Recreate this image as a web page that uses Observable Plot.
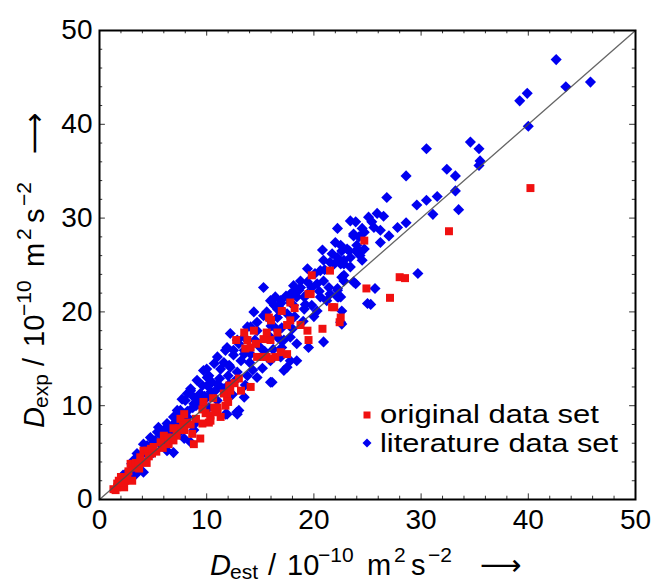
<!DOCTYPE html>
<html><head><meta charset="utf-8">
<script src="https://cdn.jsdelivr.net/npm/d3@7"></script>
<script src="https://cdn.jsdelivr.net/npm/@observablehq/plot@0.6"></script>
<style>body{margin:0;background:#fff} svg{display:block}</style>
</head><body><div id="chart"></div>
<script>
// literature data set: [D_est, D_exp]
const literature = [
[42.6,46.9],[43.5,44.0],[45.8,44.5],[39.2,42.5],[39.9,43.3],[40.0,39.8],[30.5,37.4],[34.6,38.1],[35.4,37.4],[35.5,36.1],
[35.4,35.6],[28.6,34.5],[32.4,35.2],[33.2,34.5],[33.2,32.9],[33.5,30.9],[26.8,32.2],[31.5,32.3],[30.5,31.9],[29.6,31.4],
[31.1,30.4],[28.6,29.5],[27.8,29.0],[26.5,30.2],[29.7,24.1],[25.7,22.5],[25.3,20.8],[23.7,23.2],[22.6,23.7],[22.2,21.6],
[22.6,20.1],[22.6,18.7],[19.4,24.6],[15.3,22.6],[14.4,20.0],[20.9,16.8],[19.5,16.2],[16.1,12.5],[12.8,9.3],[10.0,13.9],
[8.5,11.8],[7.7,10.7],[22.8,23.9],[25.0,20.9],
[23.4,29.7],[23.9,29.6],[25.1,30.1],[25.4,29.6],[25.9,30.5],[22.2,28.9],[23.7,28.3],[24.2,28.0],[24.7,28.5],[22.0,27.4],
[22.5,27.1],[23.1,26.7],[23.9,26.5],[20.8,26.6],[21.7,26.2],[22.2,25.8],[24.3,26.4],[24.5,25.5],[20.9,25.5],[21.5,25.3],
[22.8,25.1],[23.4,24.8],[20.1,24.1],[20.6,24.4],[18.75,23.3],[19.4,23.2],[20.3,23.0],[20.9,23.3],[21.4,22.6],[18.1,22.8],
[18.6,22.3],[18.0,22.1],[22.2,22.3],[22.5,21.6],[17.4,21.7],[17.8,21.0],[18.4,21.6],[20.6,21.6],[21.2,21.2],[21.5,21.9],
[15.6,20.0],[16.3,20.7],[16.9,20.3],[18.1,20.7],[19.1,20.3],[19.8,20.7],[20.3,20.1],
[16.4,21.6],[16.9,20.9],[17.8,21.4],[19.1,21.6],[15.3,19.6],[15.95,19.1],[16.6,19.4],[17.5,19.8],[14.1,18.4],[14.7,18.0],
[12.2,17.7],[12.85,17.0],[13.5,17.3],[15.95,17.3],[16.9,17.0],[17.8,17.3],[18.4,16.6],[11.75,15.9],[12.5,15.4],[13.5,15.9],
[14.1,15.5],[15.95,14.8],[16.9,15.2],[17.5,14.1],[10.7,14.5],[11.3,13.9],[12.1,14.3],[12.85,13.6],[13.8,13.2],[9.7,13.75],
[10.2,13.2],[15.95,12.5],[17.2,13.75],[9.1,12.7],[9.6,12.15],[10.5,12.5],[11.3,12.0],[12.1,12.3],[8.5,11.6],[9.4,11.3],
[10.05,10.9],[10.98,10.55],[8.0,10.55],[8.8,10.2],[9.6,9.8],[13.0,9.5],[7.25,9.5],[7.9,9.1],[11.9,9.1],
[10.05,12.15],[11.0,12.3],[11.6,11.8],[8.2,11.3],[8.8,10.9],[7.55,9.1],[11.75,9.1],[5.5,7.7],[6.0,7.4],[6.6,7.5],
[7.9,6.5],[8.5,6.1],[4.45,5.75],[5.05,5.2],[3.5,4.5],[4.0,4.0],[3.2,3.6],[2.9,3.1],[3.4,2.7],[6.3,5.2],
[6.9,5.0],[4.1,2.9],[8.8,7.4],
[26.2,28.7],[25.6,29.0],[24.5,28.9],[27.0,28.1],[26.2,27.4],[23.7,28.1],[24.0,27.1],[24.7,26.7],[22.6,26.5],[23.3,26.5],
[24.3,26.0],[22.5,25.1],[22.8,23.3],[23.9,23.0],[22.2,22.5],[22.3,21.6],[22.5,18.9],
[18.75,22.6],[19.4,21.9],[17.8,21.9],[21.9,25.1],[22.8,25.5],[23.4,25.8],[15.95,21.2],[16.9,21.2],[16.6,20.3],[14.7,18.9],
[16.3,18.4],[11.9,16.2],[12.5,15.9],[13.5,15.5],[11.0,15.2],[11.6,14.6],[12.2,14.1],[10.05,13.0],[7.55,9.5],[6.9,8.8],
[6.3,8.1],[5.4,7.2],[4.75,6.6],[4.1,5.9],[3.5,4.9],[3.2,4.2],[16.6,17.3],[17.2,17.0],[13.8,18.4],[17.8,14.8],
[18.4,14.8],[14.7,13.0],[13.5,10.9],[12.85,9.1],
[2.5,2.8],[3.0,3.8],[3.8,4.6],[4.3,5.0],[4.8,5.8],[5.2,6.3],[5.8,6.8],[6.2,7.0],[6.8,7.9],[7.2,8.4],
[7.6,8.0],[8.2,9.4],[8.7,9.8],[9.2,10.6],[9.8,11.0],[10.4,11.5],[5.0,5.0],[6.0,6.2],[7.0,6.9],[7.5,7.2],
[9.0,8.2],[10.2,9.8],
[13.0,16.6],[14.5,17.0],[15.0,16.2],[14.0,14.6],[15.2,14.0],[16.2,16.0],[17.0,18.3],[18.2,19.5],[19.0,19.0],[19.8,22.6],
[20.5,22.2],[21.0,24.5],[13.2,14.8],[12.0,13.2],[11.2,12.9],[10.8,11.6],[12.6,12.6],[14.3,13.8],[15.4,15.8],[16.0,18.5],
[18.0,18.2],[17.0,16.2],[19.2,20.8],[20.0,19.5],[12.4,11.2],[13.6,12.2],[9.0,10.0],[8.2,8.8],[7.0,8.0],[6.5,6.3],
[5.6,6.0],[4.6,5.2],[3.8,3.9],[2.8,2.6],[2.2,2.6]
];
// original data set: [D_est, D_exp]
const original = [
[40.2,33.2],[32.6,28.6],[24.7,27.6],[28.0,23.7],[28.5,23.6],[24.9,22.5],[27.1,21.5],[21.9,20.5],[22.5,19.4],[22.4,18.9],
[21.5,24.4],[19.8,23.9],[19.5,21.9],[17.0,20.1],[17.8,19.1],[17.5,18.6],[16.0,19.1],[13.5,17.8],[14.4,18.0],[12.75,17.0],
[13.6,16.1],[15.3,17.1],[15.6,17.8],[14.7,15.2],[15.6,15.2],[16.4,15.2],[19.4,18.0],[19.5,17.0],[20.8,18.2],
[12.2,11.6],[11.9,10.9],[14.1,12.0],[9.7,10.4],[10.8,9.5],[11.3,8.8],[10.2,8.2],[9.6,8.1],[7.9,9.1],[6.0,6.8],
[6.6,6.6],[7.2,6.8],[4.1,5.2],[4.8,5.4],[2.9,3.8],[2.0,2.4],[2.3,2.0],[1.65,1.7],[1.3,1.1],
[19.7,21.9],[21.7,20.5],[17.8,21.0],[15.8,19.4],[15.95,17.0],[14.1,16.2],[18.75,18.6],[15.3,15.2],[15.95,15.0],[16.9,15.7],
[17.5,15.5],[12.1,12.15],[11.6,11.3],[10.7,9.8],[11.0,9.3],[10.35,8.95],
[11.0,9.8],[11.75,10.0],[10.35,8.4],[7.55,8.6],[8.2,8.2],[6.3,6.6],[7.9,7.4],[8.65,7.0],[5.7,6.1],[6.45,5.9],
[4.45,5.2],[5.05,5.6],[3.8,4.5],[4.1,4.0],[3.2,3.4],[3.7,3.3],[2.6,2.4],[3.05,2.0],[2.4,2.0],[1.96,1.7],
[1.65,1.3],[2.3,1.3],[1.5,1.0],[8.8,5.9],[9.4,6.5],
[5.3,5.1],[6.9,6.3],[7.4,7.6],[9.0,8.6],[9.9,9.2],[10.6,10.8],[12.6,12.4],[13.2,11.6],[1.8,2.0],[2.7,3.0],
[3.4,3.9],[4.6,4.6],
[12.0,10.4],[13.0,12.9],[8.5,8.0],[9.6,9.6],[14.6,16.6],[16.6,17.8],[18.2,20.4],[13.8,17.0],[6.9,7.6],[5.9,5.5],
[4.9,4.9],[4.4,3.9],[3.6,3.8],[2.1,1.8],[7.8,7.9]
];
const axisTicks = [0, 10, 20, 30, 40, 50];
const majorTicks = [10, 20, 30, 40];
const minorTicks = [2,4,6,8,12,14,16,18,22,24,26,28,32,34,36,38,42,44,46,48];
const diagonal = [0, 50];
const legendLabels = ["original data set", "literature data set"];

const FONT = "'Liberation Sans', Arial, Helvetica, sans-serif";
const tickColor = "#333";
const BLUE = "#0000f0", RED = "#f01010";

const plot = Plot.plot({
  width: 654, height: 583,
  marginLeft: 99, marginRight: 19, marginTop: 30, marginBottom: 84,
  x: {domain: [0, 50]},
  y: {domain: [0, 50]},
  style: {fontFamily: FONT, background: "#fff", color: "#000"},
  marks: [
    Plot.dot(literature, {x: d => d[0], y: d => d[1], symbol: "diamond2", fill: BLUE, stroke: null, r: 5.0}),
    Plot.dot(original, {x: d => d[0], y: d => d[1], symbol: "square", fill: RED, stroke: null, r: 4.5}),
    Plot.line(diagonal, {x: d => d, y: d => d, stroke: "#4a4a4a", strokeWidth: 1.3, strokeOpacity: 0.85}),
    // inward ticks on all four sides
    Plot.ruleX(majorTicks, {x: d => d, y1: 0, y2: 0.6, stroke: tickColor}),
    Plot.ruleX(minorTicks, {x: d => d, y1: 0, y2: 0.35, stroke: tickColor}),
    Plot.ruleX(majorTicks, {x: d => d, y1: 50, y2: 49.4, stroke: tickColor}),
    Plot.ruleX(minorTicks, {x: d => d, y1: 50, y2: 49.65, stroke: tickColor}),
    Plot.ruleY(majorTicks, {y: d => d, x1: 0, x2: 0.55, stroke: tickColor}),
    Plot.ruleY(minorTicks, {y: d => d, x1: 0, x2: 0.3, stroke: tickColor}),
    Plot.ruleY(majorTicks, {y: d => d, x1: 50, x2: 49.45, stroke: tickColor}),
    Plot.ruleY(minorTicks, {y: d => d, x1: 50, x2: 49.7, stroke: tickColor}),
    Plot.frame({stroke: "#000", strokeWidth: 2}),
    Plot.axisX({ticks: axisTicks, tickSize: 0, tickPadding: 10, fontSize: 28, label: null}),
    Plot.axisY({ticks: axisTicks, tickSize: 0, tickPadding: 7, fontSize: 28, label: null})
  ]
});
document.getElementById("chart").appendChild(plot);

const svg = d3.select(plot);

// Axis titles with sub/superscripts
function axisTitle(g, sub, shift) {
  const t = g.append("text").attr("font-family", FONT).attr("fill", "#000")
    .attr("font-size", 29).attr("text-anchor", "start");
  const parts = [
    {s: "D", x: 0, y: 0, fs: 29, it: true},
    {s: sub, x: 20, y: 4, fs: 21},
    {s: "/", x: 58 + shift, y: 0, fs: 29},
    {s: "10", x: 77 + shift, y: 0, fs: 29},
    {s: "\u221210", x: 108 + shift, y: -13, fs: 21},
    {s: "m", x: 157 + shift, y: 0, fs: 29},
    {s: "2", x: 184 + shift, y: -13, fs: 21},
    {s: "s", x: 201 + shift, y: 0, fs: 29},
    {s: "\u22122", x: 218 + shift, y: -13, fs: 21},
    {s: "\u27F6", x: 270 + shift, y: 0, fs: 29}
  ];
  for (const p of parts) {
    const ts = t.append("tspan").attr("x", p.x).attr("y", p.y).attr("font-size", p.fs).text(p.s);
    if (p.it) ts.attr("font-style", "italic");
    if (p.s === "\u27F6") ts.attr("font-family", "'DejaVu Sans', sans-serif");
  }
}
axisTitle(svg.append("g").attr("transform", "translate(210,575)"), "est", 0);
axisTitle(svg.append("g").attr("transform", "translate(44,428) rotate(-90)"), "exp", 4);

// Legend
const lg = svg.append("g").attr("text-anchor", "start");
lg.append("rect").attr("x", 363.5).attr("y", 411.5).attr("width", 7).attr("height", 7).attr("fill", RED);
lg.append("path").attr("d", "M367,438.5L371.5,443L367,447.5L362.5,443Z").attr("fill", BLUE);
lg.append("text").attr("x", 380).attr("y", 423).attr("font-family", FONT).attr("font-size", 25)
  .attr("text-anchor", "start").attr("textLength", 219).attr("lengthAdjust", "spacingAndGlyphs").text(legendLabels[0]);
lg.append("text").attr("x", 380).attr("y", 452).attr("font-family", FONT).attr("font-size", 25)
  .attr("text-anchor", "start").attr("textLength", 238).attr("lengthAdjust", "spacingAndGlyphs").text(legendLabels[1]);
</script>
</body></html>
